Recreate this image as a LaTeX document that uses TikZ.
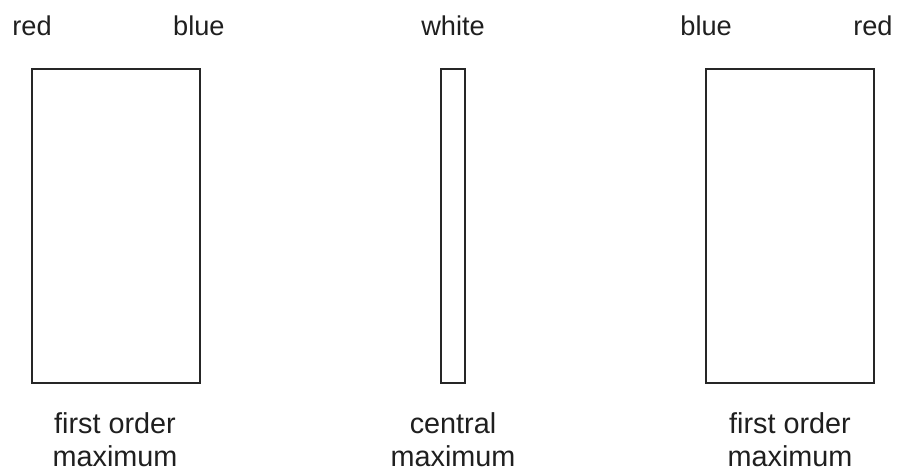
\documentclass[tikz,border=0pt]{standalone}
\usepackage{fontspec}
\setmainfont{Liberation Sans}
\begin{document}
\begin{tikzpicture}[x=0.5pt,y=-0.5pt,
  lbl/.style={inner sep=0pt,anchor=base,font=\fontsize{13.6pt}{16.5pt}\selectfont,text=black!88},
  captxt/.style={inner sep=0pt,anchor=base,align=center,font=\fontsize{14.4pt}{16.5pt}\selectfont,text=black!88},
  band/.style={draw=black!85,line width=1pt,inner sep=0pt,minimum height=157pt}]
\useasboundingbox (0,0) rectangle (897,472);
% colour labels above the spectra
\node[lbl,anchor=base west] (r1) at (12,35) {red};
\node[lbl,anchor=base east] (b1) at (225,35) {blue};
\node[lbl] (w) at (453,35) {white};
\node[lbl,anchor=base west] (b2) at (680,35) {blue};
\node[lbl,anchor=base east] (r2) at (893,35) {red};
% the three spectrum bands
\node[band,minimum width=84pt] (left) at (116,225.5) {};
\node[band,minimum width=12.25pt] (mid) at (452.75,225.5) {};
\node[band,minimum width=84pt] (right) at (790,225.5) {};
% captions below (base anchor sits on the last line)
\node[captxt] (c1) at (115,466) {first order\\maximum};
\node[captxt] (c2) at (453,466) {central\\maximum};
\node[captxt] (c3) at (790,466) {first order\\maximum};
\end{tikzpicture}
\end{document}
